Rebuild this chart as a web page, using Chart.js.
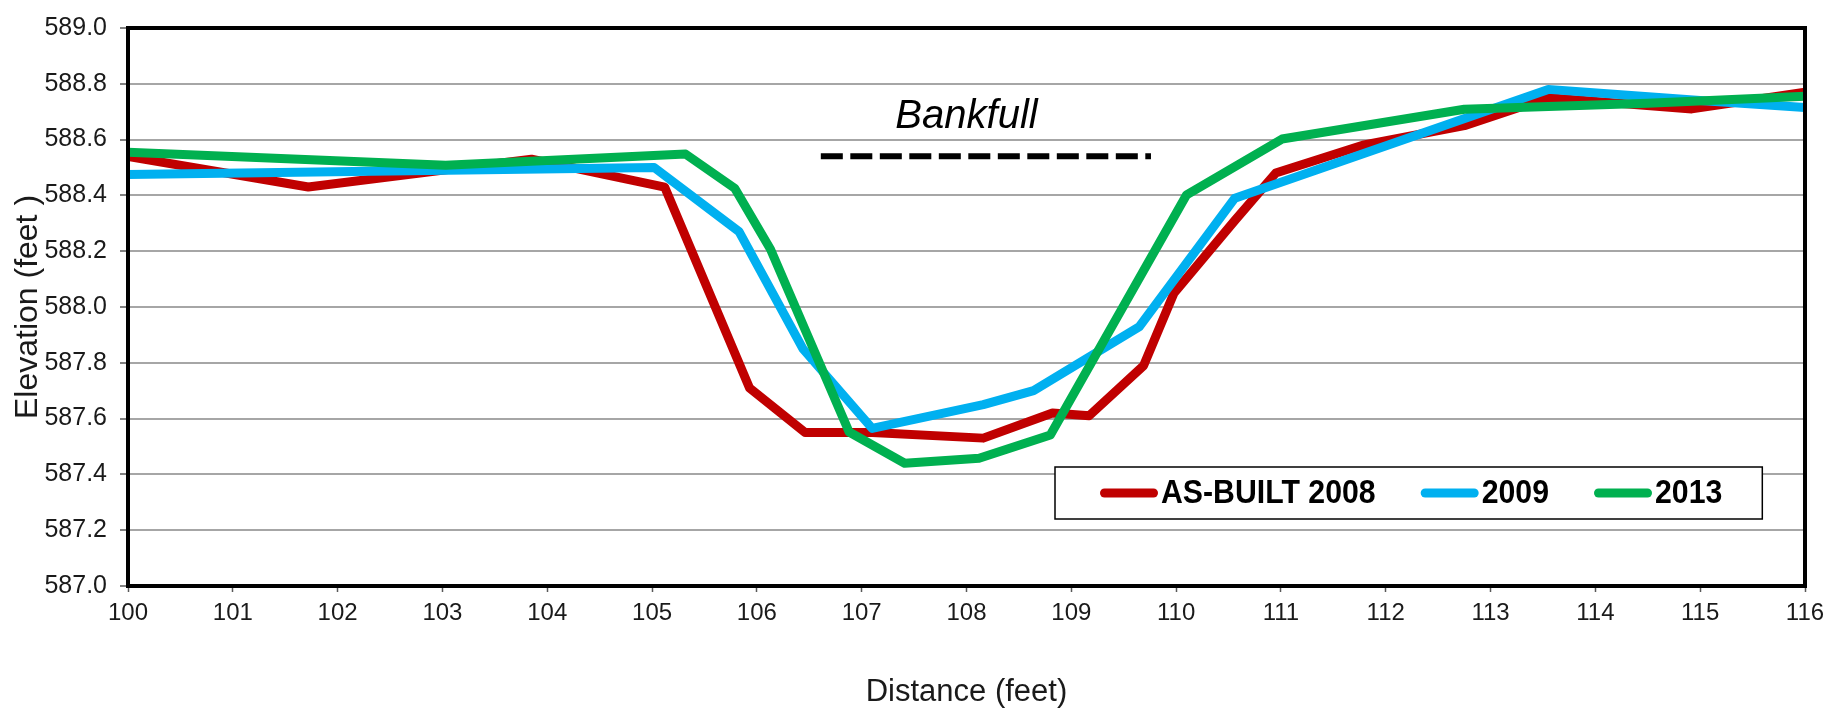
<!DOCTYPE html>
<html>
<head>
<meta charset="utf-8">
<title>Cross-section elevation</title>
<script src="https://cdn.jsdelivr.net/npm/chart.js@4.4.1/dist/chart.umd.min.js"></script>
<style>
  html, body { margin: 0; padding: 0; background: #ffffff; }
  canvas { display: block; }
</style>
</head>
<body>
<canvas id="xsec" width="1837" height="711"></canvas>
<script>
// Surveyed cross-section: distance along the section (ft) and ground elevation (ft)
const asBuiltDist = [100, 101.72, 103.85, 105.12, 105.93, 106.46, 107.10, 108.16, 108.82, 109.17, 109.69, 109.98, 110.56, 110.95, 111.78, 112.75, 113.55, 114.92, 116];
const asBuiltElev = [588.54, 588.43, 588.53, 588.43, 587.71, 587.55, 587.55, 587.53, 587.62, 587.61, 587.79, 588.05, 588.31, 588.48, 588.58, 588.65, 588.75, 588.71, 588.77];

const dist2009 = [100, 105.02, 105.83, 106.44, 107.10, 108.16, 108.64, 109.65, 110.56, 113.55, 115.00, 116];
const elev2009 = [588.475, 588.50, 588.27, 587.85, 587.565, 587.65, 587.70, 587.93, 588.39, 588.78, 588.74, 588.715];

const dist2013 = [100, 103.03, 105.32, 105.79, 106.13, 106.88, 107.41, 108.12, 108.80, 110.10, 111.01, 112.75, 114.50, 116];
const elev2013 = [588.555, 588.508, 588.548, 588.425, 588.207, 587.552, 587.44, 587.458, 587.541, 588.402, 588.602, 588.709, 588.73, 588.755];

// Bankfull stage marker
const bankfullDist = [106.61, 109.76];
const bankfullElev = [588.54, 588.54];
const bankfullLabel = 'Bankfull';
const bankfullLabelAt = [108.0, 588.64];

const seriesNames = ['AS-BUILT 2008', '2009', '2013'];
const seriesColors = ['#C00000', '#00B0F0', '#00B050'];

const xTickValues = [100, 101, 102, 103, 104, 105, 106, 107, 108, 109, 110, 111, 112, 113, 114, 115, 116];
const yTickValues = [587.0, 587.2, 587.4, 587.6, 587.8, 588.0, 588.2, 588.4, 588.6, 588.8, 589.0];

const xTitle = 'Distance (feet)';
const yTitle = 'Elevation (feet )';

function toPoints(xs, ys) {
  return xs.map((x, i) => ({ x: x, y: ys[i] }));
}

const FONT = '"Liberation Sans", Arial, sans-serif';
Chart.defaults.font.family = FONT;
Chart.defaults.color = '#1a1a1a';

function surveyLine(name, xs, ys, color, order) {
  return {
    label: name,
    data: toPoints(xs, ys),
    borderColor: color,
    backgroundColor: color,
    borderWidth: 9,
    borderJoinStyle: 'round',
    borderCapStyle: 'butt',
    pointRadius: 0,
    tension: 0,
    fill: false,
    order: order
  };
}

// Frame, bankfull caption and boxed legend drawn on top of the plot
const overlay = {
  id: 'overlay',
  afterDraw(chart) {
    const { ctx, chartArea: a, scales } = chart;
    const xs = scales.x, ys = scales.y;
    ctx.save();

    ctx.font = 'italic 40px ' + FONT;
    ctx.fillStyle = '#000';
    ctx.textAlign = 'center';
    ctx.textBaseline = 'alphabetic';
    ctx.fillText(bankfullLabel, xs.getPixelForValue(bankfullLabelAt[0]), ys.getPixelForValue(bankfullLabelAt[1]));

    ctx.lineWidth = 4;
    ctx.strokeStyle = '#000';
    ctx.strokeRect(a.left, a.top, a.right - a.left, a.bottom - a.top);

    // legend: tall, slightly condensed bold labels
    const boxLeft = a.left + 927, boxTop = a.top + 439, boxH = 52;
    const sample = 58, gapText = 3, gapItem = 45, padL = 45, padR = 40;
    const squeeze = 0.89;
    ctx.font = 'bold 34px ' + FONT;
    const widths = seriesNames.map(n => ctx.measureText(n).width * squeeze);
    let boxW = padL + padR;
    widths.forEach((w, i) => { boxW += sample + gapText + w + (i < widths.length - 1 ? gapItem : 0); });
    ctx.fillStyle = '#fff';
    ctx.fillRect(boxLeft, boxTop, boxW, boxH);
    ctx.lineWidth = 1.5;
    ctx.strokeStyle = '#000';
    ctx.strokeRect(boxLeft, boxTop, boxW, boxH);
    const cy = boxTop + boxH / 2;
    let cx = boxLeft + padL;
    ctx.textAlign = 'left';
    ctx.textBaseline = 'middle';
    seriesNames.forEach((n, i) => {
      ctx.beginPath();
      ctx.lineCap = 'round';
      ctx.lineWidth = 9;
      ctx.strokeStyle = seriesColors[i];
      ctx.moveTo(cx + 4.5, cy);
      ctx.lineTo(cx + sample - 4.5, cy);
      ctx.stroke();
      ctx.save();
      ctx.translate(cx + sample + gapText, cy + 1);
      ctx.scale(squeeze, 1);
      ctx.fillStyle = '#000';
      ctx.fillText(n, 0, 0);
      ctx.restore();
      cx += sample + gapText + widths[i] + gapItem;
    });

    ctx.restore();
  }
};

new Chart(document.getElementById('xsec'), {
  type: 'line',
  data: {
    datasets: [
      surveyLine(seriesNames[0], asBuiltDist, asBuiltElev, seriesColors[0], 3),
      surveyLine(seriesNames[1], dist2009, elev2009, seriesColors[1], 2),
      surveyLine(seriesNames[2], dist2013, elev2013, seriesColors[2], 1),
      {
        label: bankfullLabel,
        data: toPoints(bankfullDist, bankfullElev),
        borderColor: '#000',
        borderWidth: 6,
        borderDash: [22, 7.5],
        borderCapStyle: 'butt',
        pointRadius: 0,
        fill: false,
        order: 4
      }
    ]
  },
  options: {
    responsive: false,
    animation: false,
    devicePixelRatio: 1,
    layout: { padding: { top: 21, right: 32, left: 0, bottom: 0 } },
    plugins: {
      legend: { display: false },
      tooltip: { enabled: false }
    },
    scales: {
      x: {
        type: 'linear',
        min: 100,
        max: 116,
        afterBuildTicks(scale) { scale.ticks = xTickValues.map(v => ({ value: v })); },
        afterFit(scale) { scale.height = 125; },
        border: { display: false },
        grid: {
          drawOnChartArea: false,
          drawTicks: true,
          tickLength: 6,
          tickWidth: 1.5,
          tickColor: '#595959'
        },
        ticks: {
          autoSkip: false,
          maxRotation: 0,
          padding: 7,
          font: { size: 24 },
          color: '#1a1a1a',
          callback: v => String(v)
        },
        title: {
          display: true,
          text: xTitle,
          font: { size: 31 },
          color: '#1a1a1a',
          padding: { top: 0, bottom: 0 }
        }
      },
      y: {
        type: 'linear',
        min: 587,
        max: 589,
        afterBuildTicks(scale) { scale.ticks = yTickValues.map(v => ({ value: v })); },
        afterFit(scale) { scale.width = 128; },
        border: { display: false },
        grid: {
          color: '#a6a6a6',
          lineWidth: 2,
          drawTicks: true,
          tickLength: 8,
          tickWidth: 1.5,
          tickColor: '#595959'
        },
        ticks: {
          padding: 13,
          font: { size: 25 },
          color: '#1a1a1a',
          callback: v => Number(v).toFixed(1)
        },
        title: {
          display: true,
          text: yTitle,
          font: { size: 32 },
          color: '#1a1a1a',
          padding: { top: 9, bottom: 0 }
        }
      }
    }
  },
  plugins: [overlay]
});
</script>
</body>
</html>
